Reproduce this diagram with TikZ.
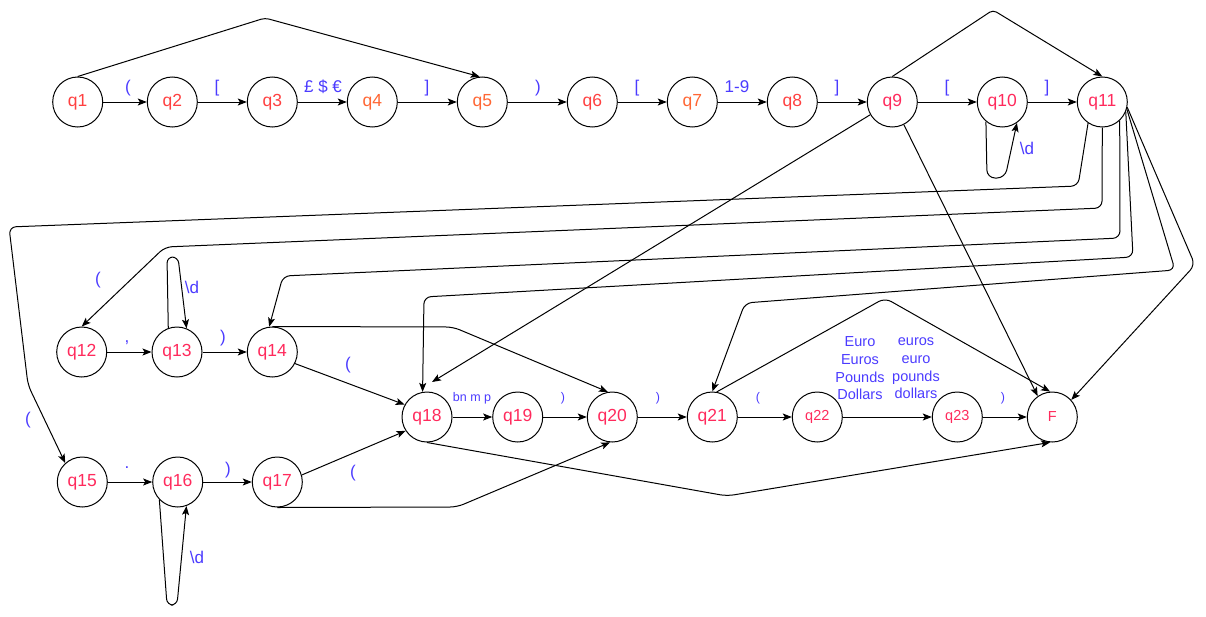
\documentclass[tikz,border=0pt]{standalone}
\usepackage{fontspec}
\setmainfont{Liberation Sans}
\usetikzlibrary{arrows.meta}

\definecolor{stred}{HTML}{FF4040}
\definecolor{storange}{HTML}{FF6633}
\definecolor{stpink}{HTML}{FF2A5C}
\definecolor{lblblue}{HTML}{4B3BFF}

\tikzset{
  state/.style={circle, draw=black, line width=1pt, minimum size=50pt, inner sep=0pt,
                font=\fontsize{17.5}{20}\selectfont},
  smallstate/.style={state, font=\fontsize{14.5}{17}\selectfont},
  edge/.style={draw, line width=1pt, -{Stealth[length=9pt,width=7pt,inset=2pt]},
               rounded corners=7pt},
  lbl/.style={text=lblblue, font=\fontsize{17}{20}\selectfont, inner sep=0pt},
  slbl/.style={lbl, font=\fontsize{12.5}{15}\selectfont},
  mlbl/.style={lbl, font=\fontsize{14.5}{17.7}\selectfont, align=center}
}

\begin{document}
\begin{tikzpicture}[x=1pt, y=-1pt]
\useasboundingbox (0,0) rectangle (1206,616);

% states, top row
\node[state, text=stred]    (q1)  at (77.7,102)  {q1};
\node[state, text=stred]    (q2)  at (172.3,102) {q2};
\node[state, text=stred]    (q3)  at (272.3,102) {q3};
\node[state, text=storange] (q4)  at (372.3,102) {q4};
\node[state, text=storange] (q5)  at (482.3,102) {q5};
\node[state, text=stred]    (q6)  at (592.3,102) {q6};
\node[state, text=storange] (q7)  at (692.3,102) {q7};
\node[state, text=stred]    (q8)  at (792.3,102) {q8};
\node[state, text=stpink]   (q9)  at (892.3,102) {q9};
\node[state, text=stpink]   (q10) at (1002.3,102) {q10};
\node[state, text=stpink]   (q11) at (1102.3,102) {q11};

% second row
\node[state, text=stpink] (q12) at (81.7,352)  {q12};
\node[state, text=stpink] (q13) at (177,352)   {q13};
\node[state, text=stpink] (q14) at (272.3,352) {q14};

% third row
\node[state, text=stpink]      (q18) at (427,417)   {q18};
\node[state, text=stpink]      (q19) at (517.7,417) {q19};
\node[state, text=stpink]      (q20) at (612.3,417) {q20};
\node[state, text=stpink]      (q21) at (712.3,417) {q21};
\node[smallstate, text=stpink] (q22) at (817.3,417) {q22};
\node[smallstate, text=stpink] (q23) at (957.3,417) {q23};
\node[smallstate, text=stpink] (F)   at (1052.3,417) {F};

% bottom row
\node[state, text=stpink] (q15) at (82.3,482)  {q15};
\node[state, text=stpink] (q16) at (177.7,482) {q16};
\node[state, text=stpink] (q17) at (277.3,482) {q17};

% entry point used by the q9 -> q18 connector
\coordinate (q18in) at (432,382);

% top row transitions
\draw[edge] (q1) -- (q2);
\draw[edge] (q2) -- (q3);
\draw[edge] (q3) -- (q4);
\draw[edge] (q4) -- (q5);
\draw[edge] (q5) -- (q6);
\draw[edge] (q6) -- (q7);
\draw[edge] (q7) -- (q8);
\draw[edge] (q8) -- (q9);
\draw[edge] (q9) -- (q10);
\draw[edge] (q10) -- (q11);
\draw[edge, rounded corners=4pt] (q1.north) -- (265,18) -- (q5.96);
\draw[edge, rounded corners=4pt] (q9.north) -- (993,10) -- (q11.north);
\draw[edge, rounded corners=8pt] (q10.-130) -- (987,178) -- (1005,178) -- (q10.-55);

% fan-out from q11
\draw[edge] (q11.-124) -- (1078,186) -- (9,227) -- (28,385) -- (q15.132);
\draw[edge] (q11.south) -- (1102,208) -- (165,247) -- (q12.north);
\draw[edge] (q11.-47) -- (1120,238) -- (283,276) -- (q14.97);
\draw[edge] (q11.-23) -- (1133,257) -- (424,297) -- (q18.100);
\draw[edge] (q11.-16) -- (1175,270) -- (745,303) -- (q21.north);
\draw[edge] (q11.-12) -- (1195,265) -- (F.42);

% from q9
\draw[edge] (q9.-150) -- (q18in);
\draw[edge] (q9.-63) -- (F.125);

% second row
\draw[edge] (q12) -- (q13);
\draw[edge] (q13) -- (q14);
\draw[edge, rounded corners=6pt] (q13.110) -- (167,257) -- (178,257) -- (q13.68);
\draw[edge] (q14.-27) -- (q18.151);
\draw[edge] (q14.north) -- (453,327) -- (q20.100);

% third row
\draw[edge] (q18) -- (q19);
\draw[edge] (q19) -- (q20);
\draw[edge] (q20) -- (q21);
\draw[edge] (q21) -- (q22);
\draw[edge] (q22) -- (q23);
\draw[edge] (q23) -- (F);
\draw[edge] (q21.80) -- (885,298) -- (F.95);
\draw[edge] (q18.south) -- (727,496) -- (F.-95);

% bottom row
\draw[edge] (q15) -- (q16);
\draw[edge] (q16) -- (q17);
\draw[edge, rounded corners=6pt] (q16.-136) -- (167,605) -- (177,605) -- (q16.-70);
\draw[edge] (q17.16) -- (q18.-147);
\draw[edge] (q17.south) -- (457,507) -- (q20.-95);

% transition labels
\node[lbl] (l12)  at (128,88)  {(};
\node[lbl] (l23)  at (217,88)  {[};
\node[lbl] (l34)  at (323,87)  {£ \$ €};
\node[lbl] (l45)  at (427,88)  {]};
\node[lbl] (l56)  at (538,88)  {)};
\node[lbl] (l67)  at (637,88)  {[};
\node[lbl] (l78)  at (737,87)  {1-9};
\node[lbl] (l89)  at (837,88)  {]};
\node[lbl] (l910) at (947,88)  {[};
\node[lbl] (l1011) at (1047,88) {]};
\node[lbl] (l1010) at (1027,148) {\textbackslash d};

\node[lbl] (l1112) at (98,280)  {(};
\node[lbl] (l1115) at (28,420)  {(};
\node[lbl] (l1213) at (127,343) {,};
\node[lbl] (l1313) at (192,287) {\textbackslash d};
\node[lbl] (l1314) at (223,338) {)};
\node[lbl] (l1418) at (348,365) {(};

\node[slbl] (l1819) at (472,398) {bn m p};
\node[slbl] (l1920) at (563,398) {)};
\node[slbl] (l2021) at (658,398) {)};
\node[slbl] (l2122) at (758,398) {(};
\node[mlbl] (l2223a) at (860,368.5) {Euro\\Euros\\Pounds\\Dollars};
\node[mlbl] (l2223b) at (916,368.5) {euros\\euro\\pounds\\dollars};
\node[slbl] (l23F)  at (1003,398) {)};

\node[lbl] (l1516) at (127,468) {.};
\node[lbl] (l1617) at (228,470) {)};
\node[lbl] (l1616) at (197,557) {\textbackslash d};
\node[lbl] (l1718) at (353,473) {(};
\end{tikzpicture}
\end{document}
